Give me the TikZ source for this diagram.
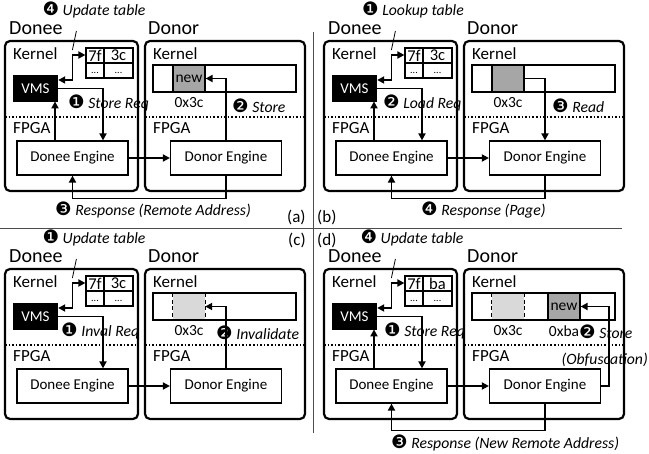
\documentclass[tikz,border=0pt]{standalone}
\usepackage{fontspec}
\setmainfont{Carlito}
\newfontfamily\dingfont{DejaVu Sans}
\usetikzlibrary{arrows.meta,positioning}

\newcommand{\fsz}[1]{\fontsize{#1}{#1}\selectfont}
\newcommand{\stepno}[1]{{\dingfont\upshape\fsz{18.5}#1}}

\definecolor{cellgray}{RGB}{166,166,166}
\definecolor{celllight}{RGB}{217,217,217}

\tikzset{
  txt/.style={inner sep=0pt, font=\fsz{17}},
  head/.style={inner sep=0pt, font=\fsz{20}},
  lbl/.style={inner sep=0pt, font=\itshape\fsz{15.7}},
  addr/.style={inner sep=0pt, font=\fsz{15.5}},
  cellt/.style={inner sep=0pt, font=\fsz{16.5}},
  dots/.style={inner sep=0pt, font=\fsz{10}},
  outer/.style={draw, line width=2.2pt, rounded corners=5pt},
  layer/.style={dotted, line width=1.6pt},
  engine/.style={draw, line width=1.2pt, minimum width=111pt, minimum height=34pt, inner sep=0pt, font=\fsz{15}},
  vmsbox/.style={fill=black, text=white, minimum width=45pt, minimum height=27pt, inner sep=0pt, font=\fsz{15}},
  tablebox/.style={draw, line width=1.2pt, minimum width=47pt, minimum height=30pt, inner sep=0pt},
  gridline/.style={line width=1.2pt},
  membar/.style={draw, line width=1.2pt, minimum width=143pt, minimum height=27pt, inner sep=0pt},
  newcell/.style={draw, fill=cellgray, line width=1.2pt, minimum width=32pt, minimum height=27pt, inner sep=0pt, font=\fsz{15.5}},
  oldcell/.style={fill=celllight, minimum width=32pt, minimum height=25.8pt, inner sep=0pt},
  cellside/.style={line width=1.2pt, dash pattern=on 4pt off 2.5pt},
  arr/.style={line width=1.8pt, -{Triangle[length=7pt,width=7pt]}},
  dbl/.style={line width=1.8pt, {Triangle[length=7pt,width=7pt]}-{Triangle[length=7pt,width=7pt]}},
  pointer/.style={line width=0.8pt},
  sep/.style={line width=0.9pt, draw=black!70},
}

\begin{document}
\begin{tikzpicture}[x=1pt,y=-1pt]
  \useasboundingbox (0,0) rectangle (649,454);

  % Panel separators
  \draw[sep] (0,228) -- (622,228);
  \draw[sep] (313,32) -- (313,433);

  % Parts shared by the four panels
  \foreach \p/\dx/\dy/\tv in {a/0/0/3c, b/319/0/3c, c/0/228/3c, d/319/228/ba} {
    \begin{scope}[shift={(\dx,\dy)}]
      \draw[layer] (5,117) -- (138,117);
      \draw[layer] (145,117) -- (305,117);
      \draw[outer] (5,41) rectangle (138,191);
      \draw[outer] (145,41) rectangle (305,191);
      \node[head, anchor=west] (donee\p) at (9,28) {Donee};
      \node[head, anchor=west] (donor\p) at (148,28) {Donor};
      \node[txt, anchor=west] (kdee\p) at (13,54) {Kernel};
      \node[txt, anchor=west] (kdor\p) at (153,54) {Kernel};
      \node[txt, anchor=west] (fdee\p) at (13,128) {FPGA};
      \node[txt, anchor=west] (fdor\p) at (153,128) {FPGA};
      % page table
      \node[tablebox] (tab\p) at (109.5,63) {};
      \draw[gridline] (tab\p.west) -- (tab\p.east);
      \draw[gridline] ([xshift=-5.5pt]tab\p.north) -- ([xshift=-5.5pt]tab\p.south);
      \node[cellt] (tk\p) at (95,55.5) {7f};
      \node[cellt] (tv\p) at (118.5,55.5) {\tv};
      \node[dots] (dk\p) at (95,72.5) {...};
      \node[dots] (dv\p) at (118.5,72.5) {...};
      \node[vmsbox] (vms\p) at (35.5,88.5) {VMS};
      \node[engine] (dee\p) at (72.5,158) {Donee Engine};
      \node[engine] (dor\p) at (226,158) {Donor Engine};
      \node[membar] (mem\p) at (224.5,78.5) {};
      \coordinate (bend\p) at ([xshift=-13pt,yshift=8pt]tab\p.west);
      \draw[dbl] ([yshift=8.5pt]vms\p.east) -| (bend\p) -- ([yshift=8pt]tab\p.west);
      \draw[pointer] ([yshift=5pt]bend\p) -- ([xshift=4pt,yshift=24pt]bend\p);
      \draw[arr] (vms\p.east) -| ([xshift=30.5pt]dee\p.north);
      \draw[arr] (dee\p) -- (dor\p);
    \end{scope}
  }

  % Engine back to VMS
  \foreach \p in {a,b,d}
    \draw[arr] ([xshift=-17.5pt]dee\p.north) -- ++(0,-39);

  % (a) store
  \node[lbl] (upda) at (94,10) {\stepno{❹} Update table};
  \node[newcell] (newa) at (189,78.5) {new};
  \node[addr, below=5pt of newa] (adra) {0x3c};
  \node[lbl, anchor=west] (reqa) at (68,103) {\stepno{❶} Store Req};
  \node[lbl, anchor=west] (stoa) at (232,106) {\stepno{❷} Store};
  \node[lbl, anchor=west] (resa) at (55,210) {\stepno{❸} Response (Remote Address)};
  \node[txt, anchor=west] (taga) at (287,217) {(a)};
  \draw[arr] (dora.north) |- (newa.east);
  \draw[arr] (dora.south) -- ++(0,23) -| (deea.south);

  % (b) load
  \node[lbl] (updb) at (413,10) {\stepno{❶} Lookup table};
  \node[newcell] (pgb) at (508,78.5) {};
  \node[addr, below=5pt of pgb] (adrb) {0x3c};
  \node[lbl, anchor=west] (reqb) at (383,103) {\stepno{❷} Load Req};
  \node[lbl, anchor=west] (rdb) at (552,106) {\stepno{❸} Read};
  \node[lbl, anchor=west] (resb) at (421,210) {\stepno{❹} Response (Page)};
  \node[txt, anchor=west] (tagb) at (317,217) {(b)};
  \draw[arr] (pgb.east) -| (dorb.north);
  \draw[arr] (dorb.south) -- ++(0,23) -| (deeb.south);

  % (c) invalidate
  \node[lbl] (updc) at (94,238) {\stepno{❶} Update table};
  \node[oldcell] (oldc) at (189,306.5) {};
  \draw[cellside] (oldc.north west) -- (oldc.south west) (oldc.north east) -- (oldc.south east);
  \node[addr, below=5.6pt of oldc] (adrc) {0x3c};
  \node[lbl, anchor=west] (reqc) at (61,331) {\stepno{❶} Inval Req};
  \node[lbl, anchor=west] (invc) at (216,333) {\stepno{❷} Invalidate};
  \node[txt, anchor=west] (tagc) at (288,240) {(c)};
  \draw[arr] (dorc.north) |- (oldc.east);

  % (d) store with obfuscation
  \node[lbl] (updd) at (412,238) {\stepno{❹} Update table};
  \node[oldcell] (oldd) at (508,306.5) {};
  \draw[cellside] (oldd.north west) -- (oldd.south west) (oldd.north east) -- (oldd.south east);
  \node[newcell] (newd) at (564,306.5) {new};
  \node[addr, below=5.6pt of oldd] (adrd) {0x3c};
  \node[addr, below=5pt of newd] (adre) {0xba};
  \node[lbl, anchor=west] (reqd) at (384,331) {\stepno{❶} Store Req};
  \node[lbl, anchor=west] (stod) at (579,332) {\stepno{❷} Store};
  \node[lbl, anchor=east] (obfd) at (648,360) {(Obfuscation)};
  \node[lbl, anchor=west] (resd) at (391,443) {\stepno{❸} Response (New Remote Address)};
  \node[txt, anchor=west] (tagd) at (317,240) {(d)};
  \draw[arr] (dord.east) -- ++(8,0) |- (newd.east);
  \draw[arr] (dord.south) -- ++(0,27) -| (deed.south);
\end{tikzpicture}
\end{document}
